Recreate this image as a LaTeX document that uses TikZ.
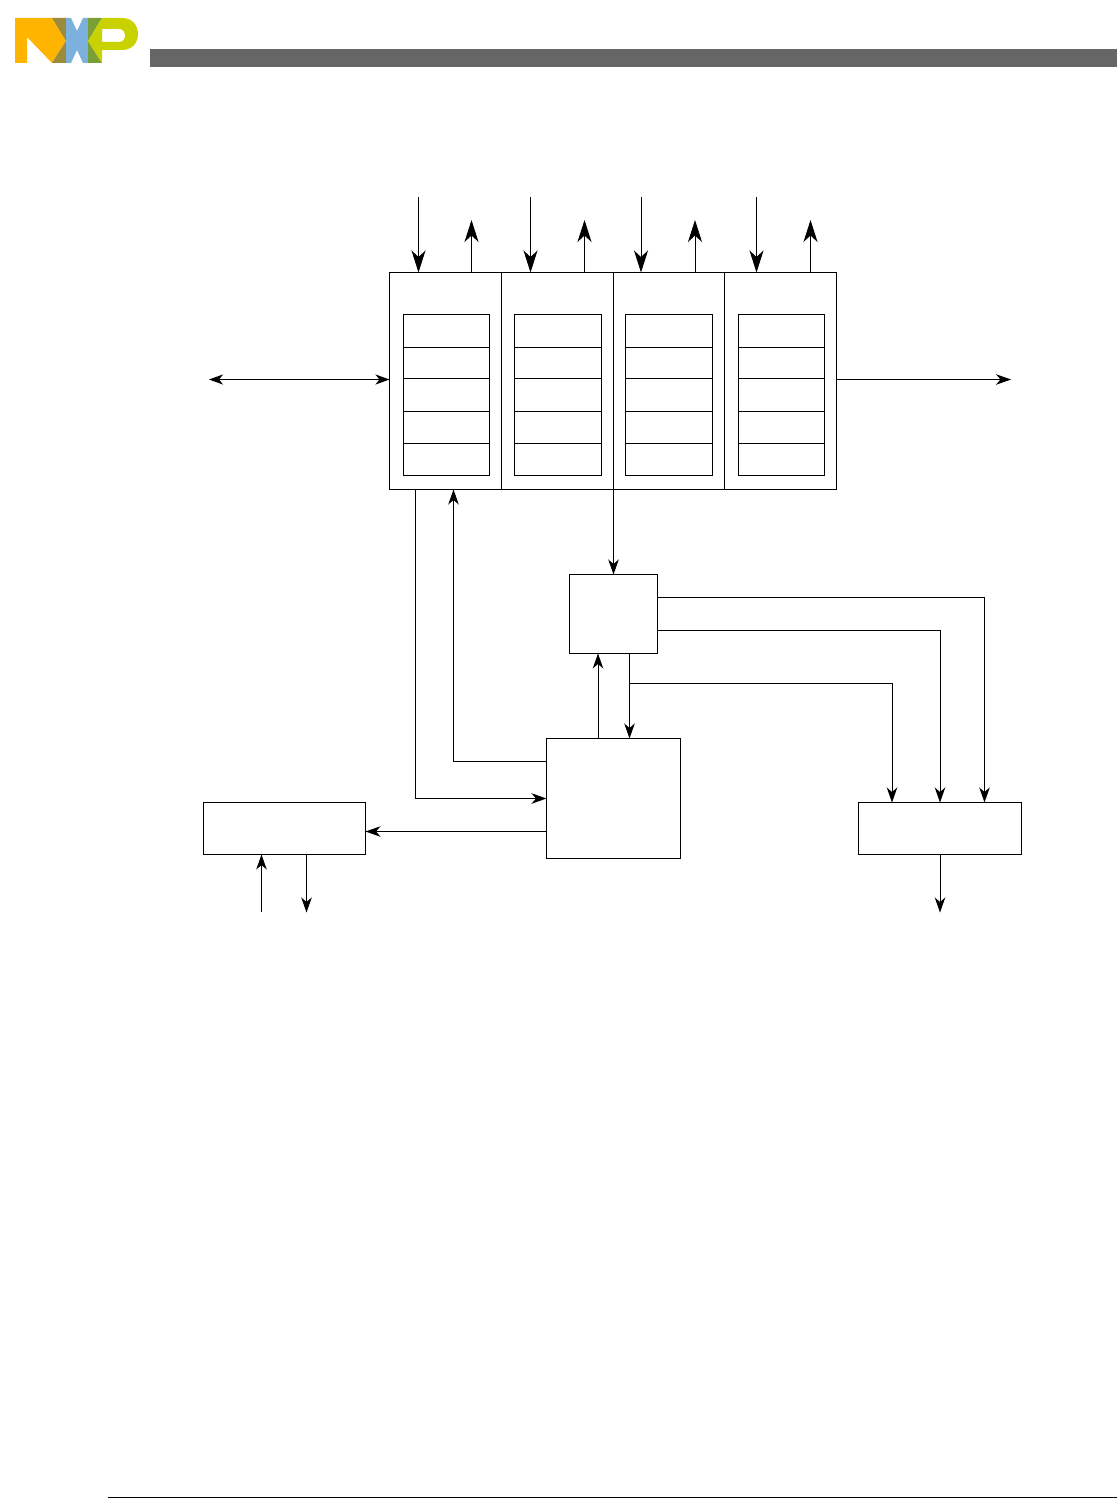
\documentclass[tikz,border=0pt]{standalone}
\usetikzlibrary{arrows.meta}
\definecolor{nxpyellow}{HTML}{FFB500}
\definecolor{nxpolive}{HTML}{9B8B3A}
\definecolor{nxpblue}{HTML}{7BB1DC}
\definecolor{nxpgreen}{HTML}{7A9F36}
\definecolor{nxplime}{HTML}{C9D200}
\definecolor{headbar}{HTML}{666666}
\tikzset{
  plainbox/.style={draw=black,line width=0.95pt,inner sep=0pt,outer sep=0pt,rectangle},
  wire/.style={draw=black,line width=0.95pt},
  arrS/.style={wire,-{Stealth[length=15pt,width=10.5pt,inset=4.5pt]}},
  arrL/.style={wire,-{Stealth[length=22pt,width=14pt,inset=6.5pt]}},
  arrB/.style={wire,{Stealth[length=14pt,width=10pt,inset=4pt]}-{Stealth[length=14pt,width=10pt,inset=4pt]}}
}
% name, x0, y0, x1, y1 (pixels, y downward)
\newcommand{\pxbox}[5]{%
  \pgfmathsetmacro{\pxw}{#4-#2}\pgfmathsetmacro{\pxh}{#5-#3}%
  \pgfmathsetmacro{\pxcx}{(#2+#4)/2}\pgfmathsetmacro{\pxcy}{(#3+#5)/2}%
  \node[plainbox,minimum width=\pxw pt,minimum height=\pxh pt] (#1) at (\pxcx,\pxcy) {};}
\begin{document}
\begin{tikzpicture}[x=1pt,y=-1pt]
\useasboundingbox (0,0) rectangle (1117,1498);
% logo
\fill[nxpyellow] (15,18) -- (52,18) -- (66,41) -- (52,63) -- (27,37) -- (27,63) -- (15,63) -- cycle;
\fill[nxpolive] (52,18) -- (66,18) -- (66,41) -- cycle;
\fill[nxpolive] (52,63) -- (66,41) -- (66,63) -- cycle;
\fill[nxpblue] (66,18) -- (71,18) -- (77,31) -- (83,18) -- (88,18) -- (88,63) -- (83,63) -- (77,50) -- (71,63) -- (66,63) -- cycle;
\fill[nxpgreen] (88,18) -- (102,18) -- (88,41) -- cycle;
\fill[nxpgreen] (88,41) -- (102,63) -- (88,63) -- cycle;
\fill[nxplime,even odd rule] (102,18) -- (122,18) .. controls (132,18) and (138,25) .. (138,34)
  .. controls (138,43) and (132,50) .. (122,50) -- (102,50) -- (102,63) -- (88,41) -- cycle
  (102,29) -- (102,42) -- (119,42) .. controls (123,42) and (125,39) .. (125,35.5)
  .. controls (125,32) and (123,29) .. (119,29) -- cycle;
% header and footer
\fill[headbar] (150,49) rectangle (1117,67);
\draw[line width=0.7pt] (108,1497) -- (1117,1497);
% channels
\pxbox{ch1}{389.5}{272.5}{501.5}{489.5}
\pxbox{ch2}{501.5}{272.5}{613.5}{489.5}
\pxbox{ch3}{613.5}{272.5}{724.5}{489.5}
\pxbox{ch4}{724.5}{272.5}{836.5}{489.5}
% registers
\foreach \c/\xa/\xb in {a/403.5/489.5,b/514.5/601.5,c/625.5/712.5,d/738.5/824.5}{
  \pxbox{r\c1}{\xa}{314.5}{\xb}{347.5}
  \pxbox{r\c2}{\xa}{347.5}{\xb}{378.5}
  \pxbox{r\c3}{\xa}{378.5}{\xb}{411.5}
  \pxbox{r\c4}{\xa}{411.5}{\xb}{443.5}
  \pxbox{r\c5}{\xa}{443.5}{\xb}{475.5}
}
% functional blocks
\pxbox{mid}{569.5}{574.5}{657.5}{653.5}
\pxbox{big}{546.5}{738.5}{680.5}{858.5}
\pxbox{lbox}{203.5}{802.5}{365.5}{854.5}
\pxbox{rbox}{858.5}{802.5}{1021.5}{854.5}
% free ends
\coordinate (ia) at (418.5,197.5); \coordinate (oa) at (471.5,220);
\coordinate (ib) at (530.5,197.5); \coordinate (ob) at (584.5,220);
\coordinate (ic) at (641,197.5);   \coordinate (oc) at (695,220);
\coordinate (id) at (756.5,197.5); \coordinate (od) at (810.5,220);
\coordinate (busl) at (209,379.5); \coordinate (busr) at (1011,379.5);
\coordinate (lin) at (261.5,911.5); \coordinate (lout) at (306.5,912.5);
\coordinate (rout) at (940,912.5);
% top connectors
\draw[arrL] (ia) -- (ia |- ch1.north);
\draw[arrL] (oa |- ch1.north) -- (oa);
\draw[arrL] (ib) -- (ib |- ch2.north);
\draw[arrL] (ob |- ch2.north) -- (ob);
\draw[arrL] (ic) -- (ic |- ch3.north);
\draw[arrL] (oc |- ch3.north) -- (oc);
\draw[arrL] (id) -- (id |- ch4.north);
\draw[arrL] (od |- ch4.north) -- (od);
% side connectors
\draw[arrB] (busl) -- (busl -| ch1.west);
\draw[arrS] (busr -| ch4.east) -- (busr);
% channels to blocks
\draw[arrS] (ch3.south west) -- (mid.north);
\coordinate (c1) at (415.5,798.5);
\draw[arrS] (c1 |- ch1.south) -- (c1) -- (c1 -| big.west);
\coordinate (c2) at (453.5,761.5);
\draw[arrS] (c2 -| big.west) -- (c2) -- (c2 |- ch1.south);
\coordinate (c3) at (598,700);
\draw[arrS] (c3 |- big.north) -- (c3 |- mid.south);
\coordinate (c4) at (629.5,683.5);
\draw[arrS] (c4 |- mid.south) -- (c4 |- big.north);
\coordinate (c5) at (892,683.5);
\draw[arrS] (c4) -- (c5) -- (c5 |- rbox.north);
\coordinate (c6) at (940,630.5);
\draw[arrS] (c6 -| mid.east) -- (c6) -- (c6 |- rbox.north);
\coordinate (c7) at (984.5,597.5);
\draw[arrS] (c7 -| mid.east) -- (c7) -- (c7 |- rbox.north);
\coordinate (c8) at (450,831.5);
\draw[arrS] (c8 -| big.west) -- (c8 -| lbox.east);
% bottom connectors
\draw[arrS] (lin) -- (lin |- lbox.south);
\draw[arrS] (lout |- lbox.south) -- (lout);
\draw[arrS] (rout |- rbox.south) -- (rout);
\end{tikzpicture}
\end{document}
